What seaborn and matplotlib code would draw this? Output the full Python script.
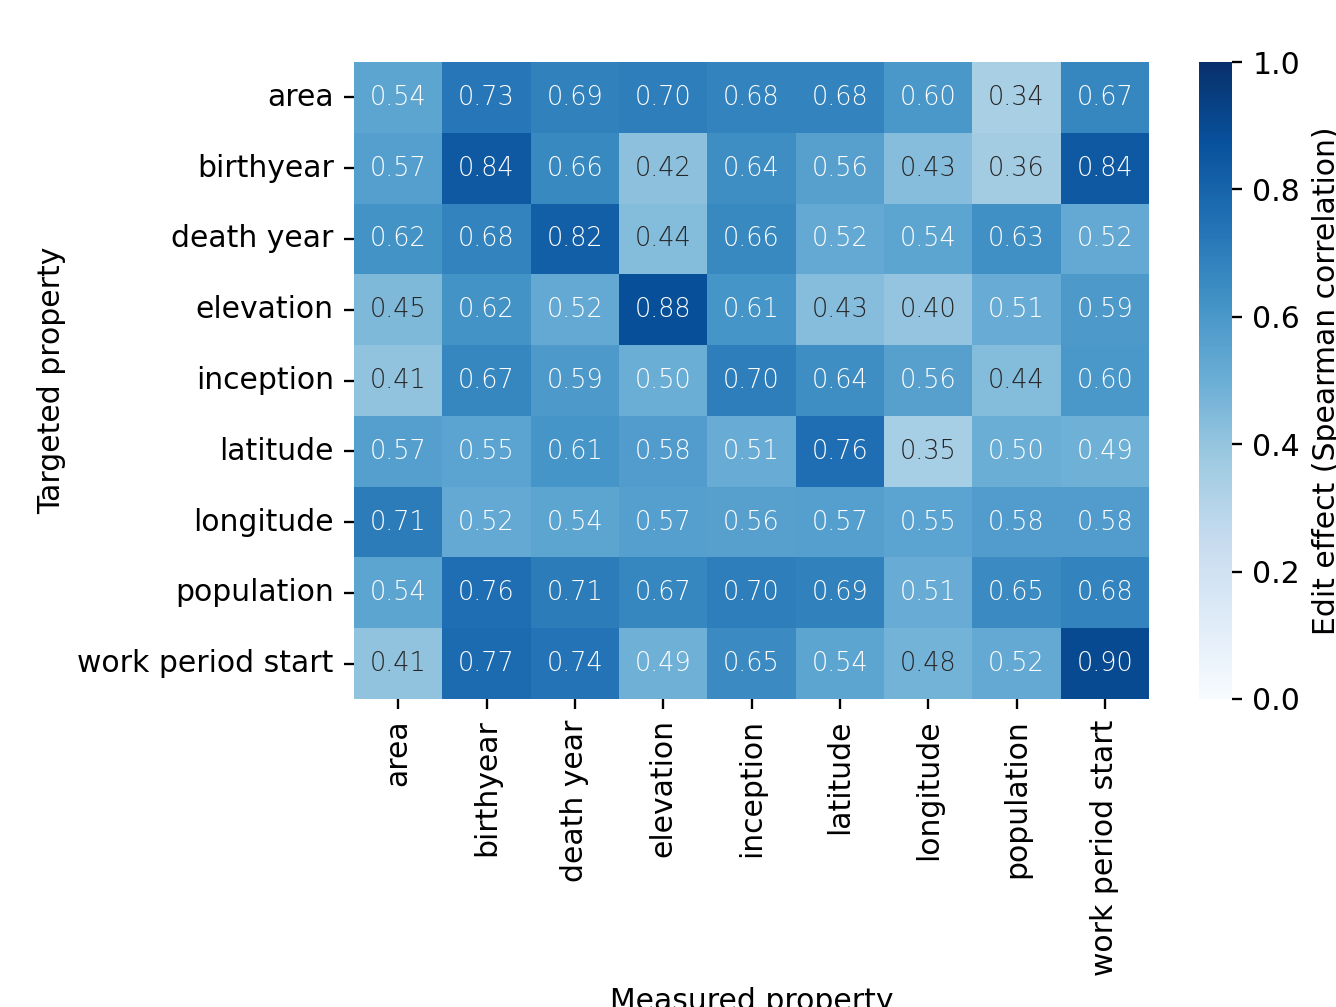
import numpy as np
import pandas as pd
import seaborn as sns
import matplotlib.pyplot as plt

properties = ['area', 'birthyear', 'death year', 'elevation', 'inception',
              'latitude', 'longitude', 'population', 'work period start']

area       = [0.54, 0.73, 0.69, 0.70, 0.68, 0.68, 0.60, 0.34, 0.67]
birthyear  = [0.57, 0.84, 0.66, 0.42, 0.64, 0.56, 0.43, 0.36, 0.84]
death_year = [0.62, 0.68, 0.82, 0.44, 0.66, 0.52, 0.54, 0.63, 0.52]
elevation  = [0.45, 0.62, 0.52, 0.88, 0.61, 0.43, 0.40, 0.51, 0.59]
inception  = [0.41, 0.67, 0.59, 0.50, 0.70, 0.64, 0.56, 0.44, 0.60]
latitude   = [0.57, 0.55, 0.61, 0.58, 0.51, 0.76, 0.35, 0.50, 0.49]
longitude  = [0.71, 0.52, 0.54, 0.57, 0.56, 0.57, 0.55, 0.58, 0.58]
population = [0.54, 0.76, 0.71, 0.67, 0.70, 0.69, 0.51, 0.65, 0.68]
work_start = [0.41, 0.77, 0.74, 0.49, 0.65, 0.54, 0.48, 0.52, 0.90]

rows = [area, birthyear, death_year, elevation, inception,
        latitude, longitude, population, work_start]
df = pd.DataFrame(rows, index=properties, columns=properties)

plt.rcParams['font.size'] = 10.3

dpi = 209
W, H = 1336, 1007
fig = plt.figure(figsize=(W / dpi, H / dpi), dpi=dpi)
ax = fig.add_axes([354 / W, 1 - 699 / H, (1149 - 354) / W, (699 - 62) / H])
cax = fig.add_axes([1199 / W, 1 - 699 / H, 33 / W, (699 - 62) / H])

sns.heatmap(df, ax=ax, cbar_ax=cax, cmap='Blues', vmin=0, vmax=1,
            annot=True, fmt='.2f',
            annot_kws={'fontsize': 8.8, 'fontweight': 'light'},
            cbar_kws={'label': 'Edit effect (Spearman correlation)'})
ax.set_xlabel('Measured property')
ax.set_ylabel('Targeted property')
ax.set_xticklabels(properties, rotation=90)
ax.set_yticklabels(properties, rotation=0)

fig.savefig('out.png', dpi=dpi)
